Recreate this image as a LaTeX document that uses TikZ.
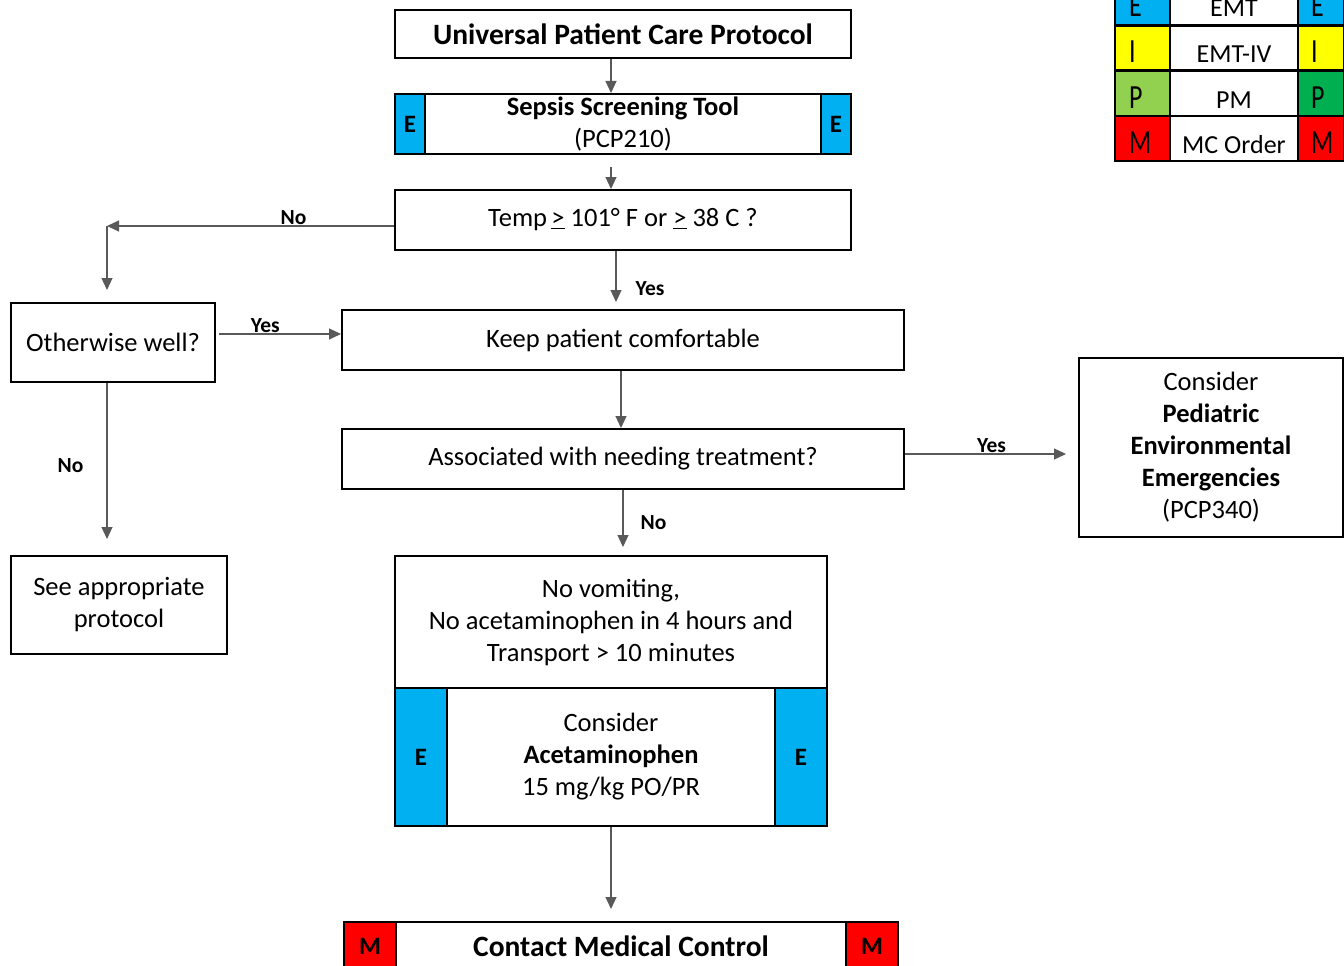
\documentclass[tikz,border=0pt]{standalone}
\usepackage{fontspec}
\setmainfont{Carlito}
\usepackage{xcolor}
\usetikzlibrary{arrows.meta,positioning}

\definecolor{emtblue}{RGB}{0,176,240}
\definecolor{ivyellow}{RGB}{255,255,0}
\definecolor{pmlight}{RGB}{146,208,80}
\definecolor{pmgreen}{RGB}{0,176,80}
\definecolor{mcred}{RGB}{255,0,0}

\newcommand{\keyletter}[1]{\scalebox{1}[1.3]{#1}}

\begin{document}
\begin{tikzpicture}[x=1pt, y=-1pt,
  every node/.style={font=\fontsize{26.5}{32}\selectfont},
  box/.style={rectangle, draw=black, line width=2pt, fill=white, align=center, inner sep=0pt},
  title/.style={font=\fontsize{29.5}{34}\selectfont\bfseries},
  side/.style={box, fill=emtblue, font=\fontsize{25}{30}\selectfont\bfseries},
  mside/.style={side, fill=mcred},
  key/.style={rectangle, draw=black, line width=2.5pt, inner sep=0pt, minimum height=45pt,
              text height=29pt, text depth=0pt, font=\fontsize{26}{30}\selectfont},
  keyl/.style={key, minimum width=55pt, text width=27pt, align=left},
  keym/.style={key, fill=white, minimum width=128pt},
  keyr/.style={key, minimum width=46pt, text width=20pt, align=left},
  arr/.style={-{Triangle[length=12pt, width=11pt]}, draw=black!65, line width=1.2pt},
  lbl/.style={font=\fontsize{21.5}{24}\selectfont\bfseries, inner sep=1pt}]

\useasboundingbox (0,0) rectangle (1344,966);

% main column
\node[box, title, minimum width=456pt, minimum height=48pt] (upcp) at (623,34) {Universal Patient Care Protocol};
\node[box, minimum width=456pt, minimum height=60pt] (sepsis) at (623,124) {\textbf{Sepsis Screening Tool}\\(PCP210)};
\node[side, minimum width=30pt, minimum height=60pt] (sepsisl) at (410,124) {E};
\node[side, minimum width=30pt, minimum height=60pt] (sepsisr) at (836,124) {E};
\node[box, minimum width=456pt, minimum height=60pt] (temp) at (623,220) {Temp\,\underline{>} 101° F or \underline{>} 38 C ?};
\node[box, minimum width=562pt, minimum height=60pt] (keep) at (623,340) {Keep patient comfortable};
\node[box, minimum width=562pt, minimum height=60pt] (assoc) at (623,459) {Associated with needing treatment?};
\node[box, minimum width=432pt, minimum height=132pt] (novomit) at (611,622) {No vomiting,\\No acetaminophen in 4 hours and\\Transport > 10 minutes};
\node[box, minimum width=432pt, minimum height=138pt] (acet) at (611,757) {Consider\\\textbf{Acetaminophen}\\15 mg/kg PO/PR};
\node[side, minimum width=52pt, minimum height=138pt] (acetl) at (421,757) {E};
\node[side, minimum width=52pt, minimum height=138pt] (acetr) at (801,757) {E};
\node[box, title, minimum width=554pt, minimum height=48pt] (mcontrol) at (621,946) {Contact Medical Control};
\node[mside, minimum width=52pt, minimum height=48pt] (mcontroll) at (370,946) {M};
\node[mside, minimum width=52pt, minimum height=48pt] (mcontrolr) at (872,946) {M};

% left branch
\node[box, minimum width=204pt, minimum height=79pt] (well) at (113,342.5) {Otherwise well?};
\node[box, minimum width=216pt, minimum height=98pt] (seeprot) at (119,605) {See appropriate\\protocol};

% right branch
\node[box, minimum width=264pt, minimum height=179pt] (peds) at (1211,447.5) {Consider\\\textbf{Pediatric}\\\textbf{Environmental}\\\textbf{Emergencies}\\(PCP340)};

% legend
\node[keyl, fill=emtblue] (keyel) at (1142.5,2.5) {\keyletter{E}};
\node[keym] (keyem) at (1234,2.5) {EMT};
\node[keyr, fill=emtblue] (keyer) at (1321,2.5) {\keyletter{E}};
\node[keyl, fill=ivyellow] (keyil) at (1142.5,48) {\keyletter{I}};
\node[keym] (keyim) at (1234,48) {EMT-IV};
\node[keyr, fill=ivyellow] (keyir) at (1321,48) {\keyletter{I}};
\node[keyl, fill=pmlight] (keypl) at (1142.5,93.5) {\keyletter{P}};
\node[keym] (keypm) at (1234,93.5) {PM};
\node[keyr, fill=pmgreen] (keypr) at (1321,93.5) {\keyletter{P}};
\node[keyl, fill=mcred] (keyml) at (1142.5,138.5) {\keyletter{M}};
\node[keym] (keymm) at (1234,138.5) {MC Order};
\node[keyr, fill=mcred] (keymr) at (1321,138.5) {\keyletter{M}};

% connectors
\coordinate (nocorner) at (107,226);
\draw[arr] ([xshift=-12pt]upcp.south) -- ([xshift=-12pt]sepsis.north);
\draw[arr] ([xshift=-12pt,yshift=-12pt]sepsis.south) -- ([xshift=-12pt]temp.north);
\draw[arr] ([yshift=-6pt]temp.west) -- node[lbl, above, pos=0.35] {No} (nocorner);
\draw[arr, shorten >=12pt] (nocorner) -- (nocorner |- well.north);
\draw[arr, shorten >=7pt] ([xshift=-7pt]temp.south) -- node[lbl, right=18pt, pos=0.65] {Yes} ([xshift=-7pt]temp.south |- keep.north);
\draw[arr] ([xshift=3pt,yshift=8.5pt]well.east) -- node[lbl, above, pos=0.38] {Yes} ([yshift=6pt]keep.west);
\draw[arr] ([xshift=-2pt]keep.south) -- ([xshift=-2pt]assoc.north);
\draw[arr, shorten >=12pt] ([yshift=5pt]assoc.east) -- node[lbl, above, pos=0.5] {Yes} ([yshift=5pt]assoc.east -| peds.west);
\draw[arr, shorten >=8pt] (assoc.south) -- node[lbl, right=16pt, pos=0.5] {No} (assoc.south |- novomit.north);
\draw[arr, shorten >=16pt] (nocorner |- well.south) -- node[lbl, left=22pt, pos=0.48] {No} (nocorner |- seeprot.north);
\draw[arr, shorten >=12pt] (acet.south) -- (acet.south |- mcontrol.north);
\end{tikzpicture}
\end{document}
